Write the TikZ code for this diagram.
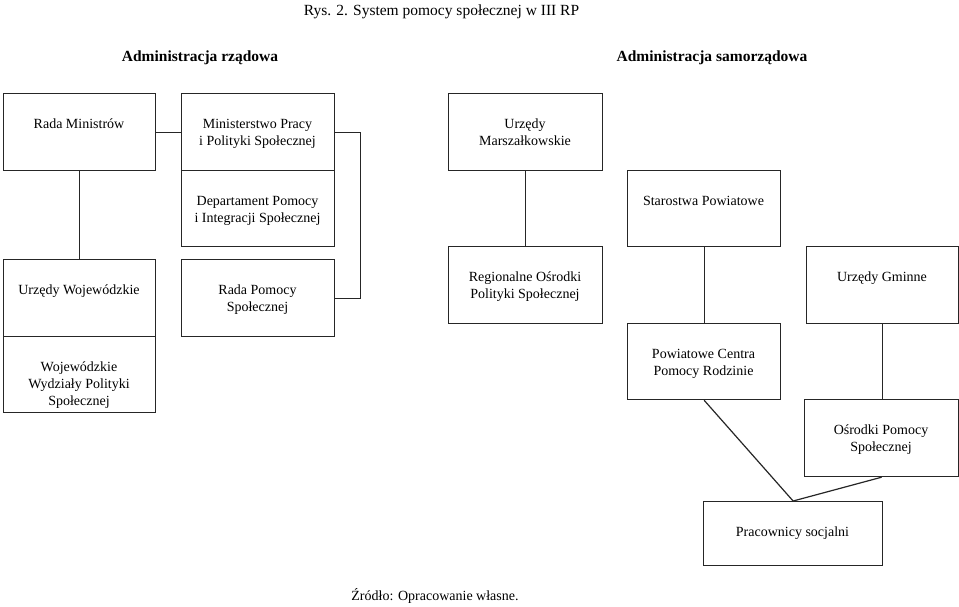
\documentclass[tikz,border=0pt]{standalone}
\usepackage{fontspec}
\setmainfont{Liberation Serif}
\newcommand\tstrut{\rule{0pt}{12pt}}
\newcommand\orgbox[6]{%
  \node[box, minimum width={(#4)-(#2)}, minimum height={(#5)-(#3)}] (#1) at (#2,#3) {};
  \node[lbl] (#1t) at ({((#2)+(#4))/2},{(#3)+23}) {\tstrut #6};
}
\begin{document}
\begin{tikzpicture}[x=1pt,y=-1pt,
  box/.style={draw=black!85, line width=1.2pt, inner sep=0pt, anchor=north west},
  lbl/.style={anchor=north, inner sep=0pt, align=center, font=\fontsize{14}{17}\selectfont},
  conn/.style={draw=black!85, line width=1.2pt},
  head/.style={anchor=base, inner sep=0pt, font=\fontsize{15.5}{18}\selectfont\bfseries},
  captxt/.style={anchor=base, inner sep=0pt}]
\useasboundingbox (0,0) rectangle (959,606);

\node[captxt, font=\fontsize{15.5}{18}\selectfont] (title) at (441.5,15) {Rys. 2. System pomocy społecznej w III RP};
\node[head] (hr) at (200,61) {Administracja rządowa};
\node[head] (hs) at (712,61) {Administracja samorządowa};

\orgbox{rm}{3}{93}{155}{170}{Rada Ministrów}
\orgbox{mp}{181}{93}{334}{170}{Ministerstwo Pracy\\i Polityki Społecznej}
\orgbox{dp}{181}{170}{334}{246}{Departament Pomocy\\i Integracji Społecznej}
\orgbox{um}{448}{93}{602}{170}{Urzędy\\Marszałkowskie}
\orgbox{sp}{627}{170}{780}{246}{Starostwa Powiatowe}
\orgbox{uw}{3}{259}{155}{336}{Urzędy Wojewódzkie}
\orgbox{ww}{3}{336}{155}{412}{Wojewódzkie\\Wydziały Polityki\\Społecznej}
\orgbox{rp}{181}{259}{334}{336}{Rada Pomocy\\Społecznej}
\orgbox{ro}{448}{246}{602}{323}{Regionalne Ośrodki\\Polityki Społecznej}
\orgbox{ug}{806}{246}{958}{323}{Urzędy Gminne}
\orgbox{pc}{627}{323}{780}{399}{Powiatowe Centra\\Pomocy Rodzinie}
\orgbox{op}{804}{399}{958}{476}{Ośrodki Pomocy\\Społecznej}
\orgbox{pr}{703}{501}{882}{565}{Pracownicy socjalni}

\draw[conn] (rm) -- (mp);
\draw[conn] (mp.east) -- ++(25,0) |- (rp.east);
\draw[conn] (rm) -- (uw);
\draw[conn] (um) -- (ro);
\draw[conn] (sp) -- (pc);
\draw[conn] (ug.south) -- (ug.south |- op.north);
\draw[conn] (pc.south) -- (pr.north);
\draw[conn] (op.south) -- (pr.north);

\node[captxt, font=\fontsize{14}{17}\selectfont] (src) at (435,600.5) {Źródło: Opracowanie własne.};
\end{tikzpicture}
\end{document}
